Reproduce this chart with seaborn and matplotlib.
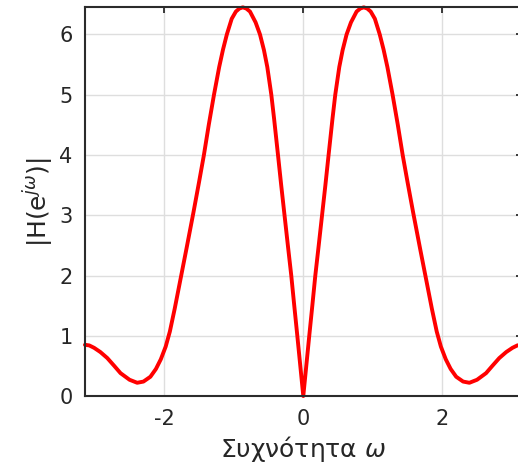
import matplotlib
matplotlib.use("Agg")
import matplotlib.pyplot as plt
import numpy as np
import pandas as pd
import seaborn as sns

# magnitude, positive half (curve is symmetric)
w_half = [0.0, 0.043, 0.086, 0.13, 0.173, 0.222, 0.27, 0.318, 0.364, 0.42,
          0.46, 0.518, 0.566, 0.623, 0.686, 0.767, 0.82, 0.87, 0.92, 0.97,
          1.03, 1.10, 1.155, 1.21, 1.285, 1.36, 1.43, 1.50, 1.58, 1.68,
          1.765, 1.85, 1.92, 1.98, 2.05, 2.12, 2.2, 2.3, 2.39, 2.5, 2.63,
          2.72, 2.82, 2.92, 3.01, 3.08, 3.1416]
mag_half = [0.0, 0.5, 1.0, 1.5, 2.0, 2.5, 3.0, 3.5, 4.0, 4.6,
            5.0, 5.46, 5.74, 6.0, 6.2, 6.38, 6.43, 6.45, 6.43, 6.38,
            6.26, 6.0, 5.75, 5.46, 5.0, 4.5, 4.0, 3.55, 3.05, 2.45,
            1.95, 1.45, 1.07, 0.82, 0.61, 0.45, 0.32, 0.24, 0.22, 0.27, 0.38,
            0.5, 0.63, 0.73, 0.8, 0.84, 0.85]
x_ticks = [-2, 0, 2]
y_ticks = [0, 1, 2, 3, 4, 5, 6]

omega = np.concatenate([-np.array(w_half[::-1]), np.array(w_half[1:])])
mag = np.concatenate([np.array(mag_half[::-1]), np.array(mag_half[1:])])
df = pd.DataFrame({"omega": omega, "mag": mag})

sns.set_theme(style="white")
plt.rcParams['font.family'] = ['DejaVu Sans']
plt.rcParams['mathtext.fontset'] = 'dejavusans'
plt.rcParams['axes.unicode_minus'] = False

fig = plt.figure(figsize=(5.18, 4.76), dpi=100)
ax = fig.add_axes([0.164, 0.168, 0.843, 0.8166])

sns.lineplot(data=df, x="omega", y="mag", color="#ff0000", linewidth=2.8,
             sort=False, ax=ax, clip_on=False)

ax.set_xlim(-np.pi, np.pi)
ax.set_ylim(0, max(mag_half))
ax.set_xticks(x_ticks)
ax.set_yticks(y_ticks)
ax.grid(True, color="#dedede", linewidth=1.0)
ax.set_axisbelow(True)
for s in ax.spines.values():
    s.set_color("#2b2b2b")
    s.set_linewidth(1.5)
ax.tick_params(direction="in", length=4, width=1.3, color="#2b2b2b",
               top=True, right=True, labelsize=15, labelcolor="#262626",
               pad=9)
ax.set_xlabel(r"Συχνότητα $\omega$", fontsize=18, color="#262626", labelpad=4)
ax.set_ylabel(r"|H(e$^{j\omega}$)|", fontsize=18, color="#262626", labelpad=2)

fig.savefig("out.png", dpi=100)
